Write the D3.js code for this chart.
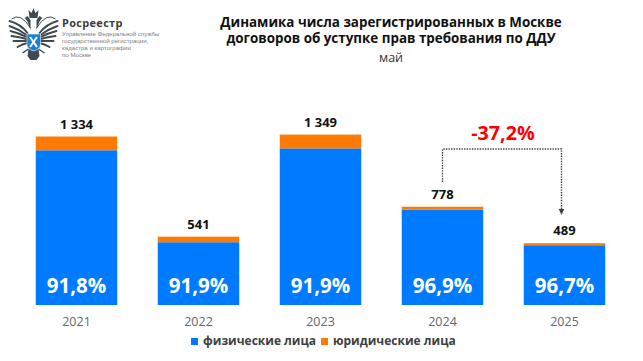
<!DOCTYPE html>
<html>
<head>
<meta charset="utf-8">
<style>
  html, body { margin: 0; padding: 0; background: #fff; }
  text { font-family: "Open Sans", sans-serif; }
</style>
<script src="https://cdn.jsdelivr.net/npm/d3@7"></script>
</head>
<body>
<div id="chart"></div>
<script>
const years = ["2021", "2022", "2023", "2024", "2025"];
const fizLica = [1225, 497, 1240, 754, 473];
const yurLica = [109, 44, 109, 24, 16];
const totalLabels = ["1 334", "541", "1 349", "778", "489"];
const shareLabels = ["91,8%", "91,9%", "91,9%", "96,9%", "96,7%"];
const legendLabels = ["физические лица", "юридические лица"];
const titleLines = ["Динамика числа зарегистрированных в Москве", "договоров об уступке прав требования по ДДУ"];
const orgLines = ["Управление Федеральной службы", "государственной регистрации,", "кадастра и картографии", "по Москве"];

const width = 643, height = 361;
const blue = "#007bff", orange = "#ff7a00";

const svg = d3.select("#chart").append("svg")
  .attr("width", width).attr("height", height)
  .style("display", "block");

const x = d3.scaleBand().domain(years).range([15.5, 625.5]).paddingInner(0.332).paddingOuter(0.166);
const y = d3.scaleLinear().domain([0, 1334]).range([305, 136.5]);

// Столбцы
const rows = years.map((d, i) => ({ year: d, fiz: fizLica[i], yur: yurLica[i], total: totalLabels[i], share: shareLabels[i] }));

svg.selectAll(".fiz").data(rows).enter().append("rect")
  .attr("x", d => x(d.year))
  .attr("y", d => y(d.fiz))
  .attr("width", x.bandwidth())
  .attr("height", d => y(0) - y(d.fiz))
  .attr("fill", blue);

svg.selectAll(".yur").data(rows).enter().append("rect")
  .attr("x", d => x(d.year))
  .attr("y", d => y(d.fiz + d.yur))
  .attr("width", x.bandwidth())
  .attr("height", d => y(d.fiz) - y(d.fiz + d.yur))
  .attr("fill", orange);

// Подписи
svg.selectAll(".total").data(rows).enter().append("text")
  .attr("x", d => x(d.year) + x.bandwidth() / 2)
  .attr("y", d => y(d.fiz + d.yur) - 8)
  .attr("text-anchor", "middle")
  .attr("font-size", 13).attr("font-weight", 700).attr("fill", "#111")
  .text(d => d.total);

svg.selectAll(".share").data(rows).enter().append("text")
  .attr("x", d => x(d.year) + x.bandwidth() / 2)
  .attr("y", 293)
  .attr("text-anchor", "middle")
  .attr("font-size", 20.5).attr("font-weight", 700).attr("fill", "#fff")
  .text(d => d.share);

// Ось X
const axis = svg.append("g")
  .attr("transform", "translate(0,305)")
  .call(d3.axisBottom(x).tickSize(0).tickPadding(12));
axis.select(".domain").remove();
axis.selectAll("text")
  .attr("font-family", "Open Sans")
  .attr("font-size", 12.5).attr("fill", "#666");

// Стрелка
const x24 = x("2024") + x.bandwidth() / 2;
const x25 = x("2025") + x.bandwidth() / 2 - 3;
svg.append("path")
  .attr("d", d3.line()([[x24, 182], [x24, 149], [x25, 149], [x25, 209]]))
  .attr("fill", "none").attr("stroke", "#404040")
  .attr("stroke-width", 1.4).attr("stroke-dasharray", "1.4 1.2");
svg.append("path")
  .attr("d", d3.line()([[x25 - 2.8, 209], [x25 + 2.8, 209], [x25, 215]]))
  .attr("fill", "#404040");
svg.append("text")
  .attr("x", (x24 + x25) / 2 + 1).attr("y", 140)
  .attr("text-anchor", "middle")
  .attr("font-size", 19.7).attr("font-weight", 700).attr("fill", "#ff0000")
  .text("-37,2%");

// Заголовок
svg.selectAll(".title").data(titleLines).enter().append("text")
  .attr("x", 391).attr("y", (d, i) => 27 + i * 16)
  .attr("text-anchor", "middle")
  .attr("font-size", 13.4).attr("font-weight", 700).attr("fill", "#111")
  .text(d => d);
svg.append("text")
  .attr("x", 391).attr("y", 62)
  .attr("text-anchor", "middle")
  .attr("font-size", 12.5).attr("fill", "#333")
  .text("май");

// Легенда
const legendX = [191, 321];
[blue, orange].forEach((c, i) => {
  svg.append("rect").attr("x", legendX[i]).attr("y", 338).attr("width", 7).attr("height", 7).attr("fill", c);
  svg.append("text").attr("x", legendX[i] + 12).attr("y", 345)
    .attr("font-size", 12).attr("font-weight", 700).attr("fill", "#404040")
    .text(legendLabels[i]);
});

// Логотип
const logo = svg.append("g");
logo.append("text").attr("x", 62).attr("y", 27)
  .attr("font-size", 11).attr("font-weight", 700).attr("letter-spacing", 0.3).attr("fill", "#3c3c3c")
  .text("Росреестр");
logo.selectAll(".org").data(orgLines).enter().append("text")
  .attr("x", 62).attr("y", (d, i) => 35.5 + i * 7.05)
  .style("font-family", "'Liberation Sans', sans-serif")
  .attr("font-size", 6.1).attr("fill", "#808080")
  .text(d => d);

const dark = "#3f4a50";
const eagle = logo.append("g").attr("transform", "translate(33.5,0)");
// крылья
const feathers = [
  "M-6 33 Q-13 24 -24 21",
  "M-7 35 Q-15 29 -24 26",
  "M-7 37 Q-15 33 -23 31",
  "M-7 39 Q-14 37 -22 36",
  "M-7 41 Q-13 41 -20 41",
  "M-6 43 Q-11 44 -16 47"
];
[1, -1].forEach(s => {
  const side = eagle.append("g").attr("transform", `scale(${s},1)`);
  side.selectAll("path").data(feathers).enter().append("path")
    .attr("d", d => d).attr("fill", "none")
    .attr("stroke", dark).attr("stroke-width", 1.9).attr("stroke-linecap", "round");
  // шея и голова
  side.append("path").attr("d", "M-3 28 Q-13 12 -22 19")
    .attr("fill", "none").attr("stroke", dark).attr("stroke-width", 1);
  side.append("path").attr("d", "M-3 30 C-5 24 -6 20 -9 18 L-6 16 L-3 20 Z").attr("fill", dark);
  // лапы
  side.append("path").attr("d", "M-5 49 L-11 53").attr("stroke", dark).attr("stroke-width", 1.5);
});
// корона
eagle.append("path").attr("d", "M-5 10 L-2 13 L0 8 L2 13 L5 10 L4 18 L-4 18 Z").attr("fill", dark);
// хвост
eagle.append("path").attr("d", "M-5 49 L5 49 L6 56 L3 60 L-3 60 L-6 56 Z").attr("fill", dark);
// щит
eagle.append("path").attr("d", "M-6.5 34 L7 34 L7 45 Q7 49 0.2 51 Q-6.5 49 -6.5 45 Z")
  .attr("fill", "#1c7fd6").attr("stroke", "#fff").attr("stroke-width", 0.6);
eagle.append("path").attr("d", "M-3.5 37 L3.5 47 M3.5 37 L-3.5 47").attr("stroke", "#fff").attr("stroke-width", 2);
</script>
</body>
</html>
